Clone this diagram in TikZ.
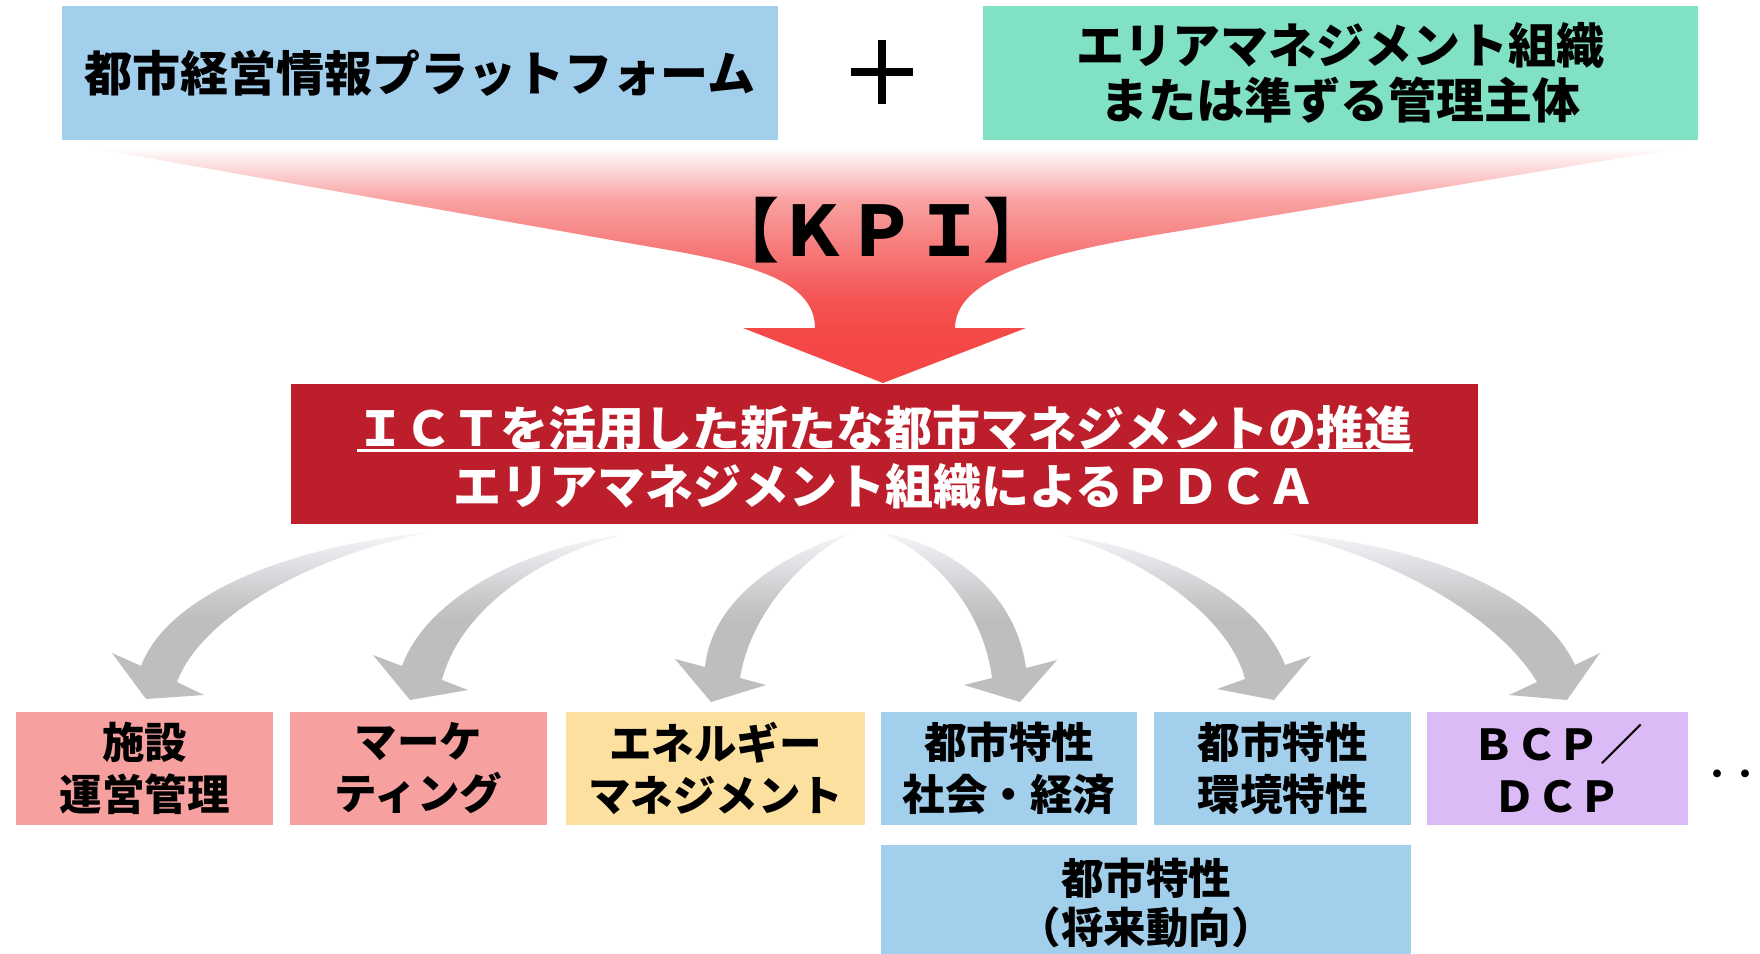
\documentclass[tikz,border=0pt]{standalone}
\usepackage{fontspec}
\setmainfont{Noto Sans CJK JP}
\usetikzlibrary{calc}
\definecolor{boxblue}{HTML}{A1CFEC}
\definecolor{boxgreen}{HTML}{80E1C5}
\definecolor{boxpink}{HTML}{F6A09F}
\definecolor{boxyellow}{HTML}{FCE0A0}
\definecolor{boxlav}{HTML}{DABBF6}
\definecolor{darkred}{HTML}{BC1F2B}
\definecolor{rA}{HTML}{F44040}
\definecolor{rB}{HTML}{F54848}
\definecolor{rC}{HTML}{F55555}
\definecolor{rD}{HTML}{F77878}
\definecolor{rE}{HTML}{F9A3A3}
\definecolor{rF}{HTML}{FCD6D6}
\definecolor{rG}{HTML}{FFFFFF}
\pgfdeclareverticalshading{redfade}{100bp}{color(0bp)=(rA); color(36bp)=(rB); color(43bp)=(rC); color(53bp)=(rD); color(64bp)=(rE); color(70bp)=(rF); color(75bp)=(rG); color(100bp)=(rG)}
\definecolor{gA}{HTML}{BEBEBE}
\definecolor{gB}{HTML}{C6C7C8}
\definecolor{gC}{HTML}{DADCDF}
\definecolor{gD}{HTML}{F3F5F7}
\pgfdeclareverticalshading{grayfade}{100bp}{color(0bp)=(gA); color(49bp)=(gA); color(55bp)=(gB); color(64bp)=(gC); color(75bp)=(gD); color(100bp)=(gD)}
\tikzset{
  topbox/.style={rectangle, inner sep=0pt, outer sep=0pt, align=center,
    minimum width=358pt, minimum height=67pt,
    font=\bfseries\fontsize{24}{27.5}\selectfont},
  lowbox/.style={rectangle, inner sep=0pt, outer sep=0pt, align=center,
    minimum height=56.5pt, font=\bfseries\fontsize{21.25}{26}\selectfont},
  redtext/.style={inner sep=0pt, outer sep=0pt, text=white,
    font=\bfseries\fontsize{24}{24}\selectfont},
  grayarrow/.style={shading=grayfade},
}
\begin{document}
\begin{tikzpicture}[x=0.5pt,y=-0.5pt]
\useasboundingbox (0,0) rectangle (1760,953);
\clip (0,0) rectangle (1760,953);
\fill[white] (0,0) rectangle (1760,953);

% big red gradient arrow
\path[shading=redfade] (86,147) -- (1687,147) -- (1204,227)
  .. controls (1100,244) and (955,265) .. (955,328) -- (1026,328) -- (883,383)
  -- (743,328) -- (815,328) .. controls (815,268) and (710,258) .. (600,238) -- cycle;

% top boxes
\node[topbox, fill=boxblue] (plat) at (420,73) {都市経営情報プラットフォーム};
\node[topbox, fill=boxgreen, minimum width=357.5pt] (org) at (1340.5,73)
  {エリアマネジメント組織\\または準ずる管理主体};
\draw[line width=4pt] (851,72) -- (913,72);
\draw[line width=4pt] (882,40) -- (882,104);

% KPI
\node[inner sep=0pt, font=\bfseries\fontsize{34}{34}\selectfont, yscale=1.02] (kpi) at (881,230) {【ＫＰＩ】};

% central dark red box
\node[rectangle, fill=darkred, inner sep=0pt, minimum width=593.5pt, minimum height=70pt] (ict) at (884.5,454) {};
\node[redtext] (t1) at (884.5,428) {ＩＣＴを活用した新たな都市マネジメントの推進};
\node[redtext] (t2) at (884.5,486) {エリアマネジメント組織によるＰＤＣＡ};
\coordinate (ul) at (0,450);
\draw[white, line width=1.5pt] (t1.west |- ul) -- (t1.east |- ul);

% gray curved arrows
\path[grayarrow] (425,533) .. controls (300,545) and (170,590) .. (141,666) -- (112,653) -- (146,699) -- (204,695) -- (177,682) .. controls (200,620) and (300,560) .. (425,533) -- cycle;
\path[grayarrow] (623,535) .. controls (540,545) and (430,590) .. (402,666) -- (373,655) -- (410,700) -- (468,690) -- (442,680) .. controls (460,610) and (540,555) .. (623,535) -- cycle;
\path[grayarrow] (848,534) .. controls (780,555) and (712,600) .. (705,667) -- (675,659) -- (711,702) -- (766,685) -- (740,678) .. controls (750,615) and (800,560) .. (848,534) -- cycle;
\path[grayarrow] (883,533) .. controls (950,545) and (1015,590) .. (1026,668) -- (1057,660) -- (1020,702) -- (964,685) -- (992,678) .. controls (985,620) and (945,560) .. (883,533) -- cycle;
\path[grayarrow] (1061,535) .. controls (1170,550) and (1260,600) .. (1285,665) -- (1311,656) -- (1274,700) -- (1217,689) -- (1245,679) .. controls (1230,620) and (1150,560) .. (1061,535) -- cycle;
\path[grayarrow] (1285,533) .. controls (1420,545) and (1540,590) .. (1575,665) -- (1600,653) -- (1567,700) -- (1509,695) -- (1537,682) .. controls (1500,620) and (1400,560) .. (1285,533) -- cycle;

% bottom boxes
\node[lowbox, fill=boxpink, minimum width=128.5pt] (b1) at (144.5,768.5) {施設\\運営管理};
\node[lowbox, fill=boxpink, minimum width=128.5pt] (b2) at (418.5,768.5) {マーケ\\ティング};
\node[lowbox, fill=boxyellow, minimum width=149.5pt] (b3) at (715.5,768.5) {エネルギー\\マネジメント};
\node[lowbox, fill=boxblue, minimum width=128pt] (b4) at (1009,768.5) {都市特性\\社会・経済};
\node[lowbox, fill=boxblue, minimum width=128.5pt] (b5) at (1282.5,768.5) {都市特性\\環境特性};
\node[lowbox, fill=boxlav, minimum width=130.5pt] (b6) at (1557.5,768.5) {ＢＣＰ／\\ＤＣＰ};
\node[lowbox, fill=boxblue, minimum width=265pt, minimum height=57.5pt,
  font=\bfseries\fontsize{21.25}{24.5}\selectfont] (b7) at (1146,902.5) {都市特性\\（将来動向）};
\node[inner sep=0pt, anchor=west, font=\bfseries\fontsize{14}{14}\selectfont] (dots) at (1703,777) {・・};
\end{tikzpicture}
\end{document}
